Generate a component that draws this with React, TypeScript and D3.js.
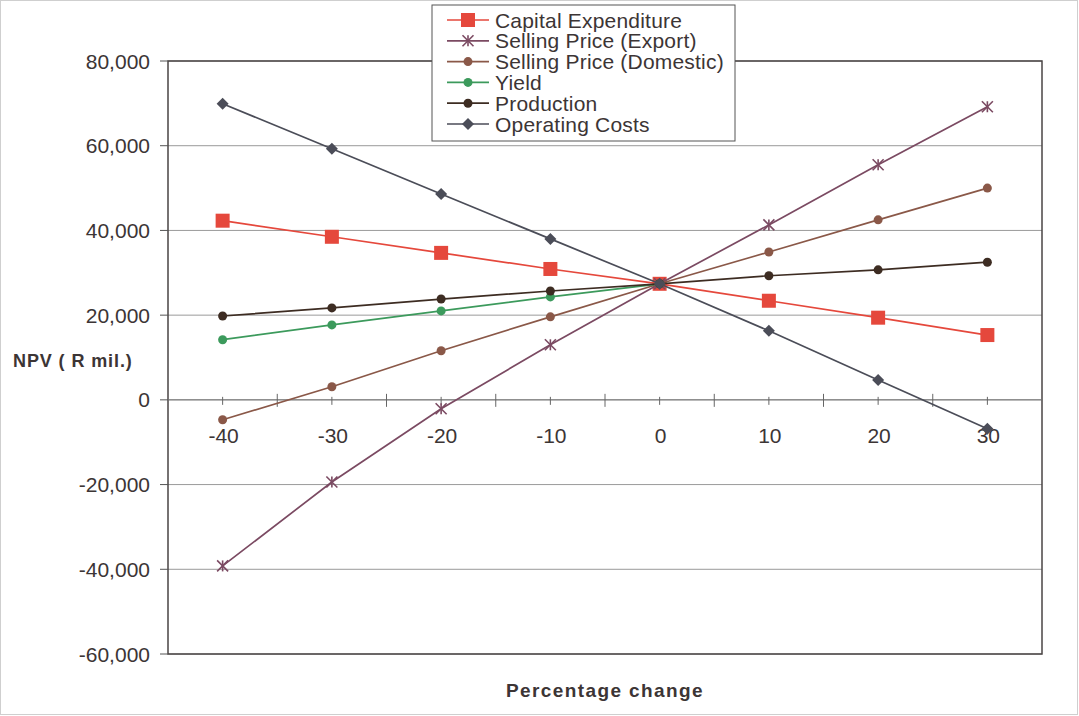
import React from "react";
import * as d3 from "d3";

// Percentage change applied to each input variable
const categories = [-40, -30, -20, -10, 0, 10, 20, 30];

// NPV (R mil.) for each sensitivity series
const capitalExpenditure = [42300, 38500, 34700, 30900, 27400, 23400, 19400, 15300];
const sellingPriceExport = [-39200, -19400, -2100, 13000, 27400, 41300, 55500, 69200];
const sellingPriceDomestic = [-4700, 3100, 11600, 19600, 27400, 34900, 42500, 50000];
const yieldValues = [14200, 17700, 21000, 24300, 27400, null, null, null];
const production = [19800, 21700, 23800, 25700, 27400, 29300, 30700, 32500];
const operatingCosts = [69900, 59300, 48600, 38000, 27400, 16300, 4700, -6800];

const yTicks = [80000, 60000, 40000, 20000, 0, -20000, -40000, -60000];

type Marker = "square" | "star" | "circle" | "diamond";
interface Series {
  name: string;
  values: (number | null)[];
  color: string;
  marker: Marker;
}

const series: Series[] = [
  { name: "Capital Expenditure", values: capitalExpenditure, color: "#e5483c", marker: "square" },
  { name: "Selling Price (Export)", values: sellingPriceExport, color: "#7b4a62", marker: "star" },
  { name: "Selling Price (Domestic)", values: sellingPriceDomestic, color: "#8a5848", marker: "circle" },
  { name: "Yield", values: yieldValues, color: "#3c9a5c", marker: "circle" },
  { name: "Production", values: production, color: "#3d2c22", marker: "circle" },
  { name: "Operating Costs", values: operatingCosts, color: "#4b4d58", marker: "diamond" },
];

const W = 1079;
const H = 716;
const plot = { left: 168, right: 1042, top: 61, bottom: 654 };
const FONT = "Arial, 'Liberation Sans', sans-serif";
const TEXT = "#3c3535";

// thousands separator with a plain hyphen for negatives
const fmt = (v: number) => d3.format(",")(v).replace("\u2212", "-");

function MarkerShape({ type, x, y, color }: { type: Marker; x: number; y: number; color: string }) {
  if (type === "square") return <rect x={x - 7} y={y - 7} width={14} height={14} fill={color} />;
  if (type === "circle") return <circle cx={x} cy={y} r={4.5} fill={color} />;
  if (type === "diamond")
    return <path d={`M${x},${y - 6}L${x + 6},${y}L${x},${y + 6}L${x - 6},${y}Z`} fill={color} />;
  // asterisk
  const s = 5.5;
  return (
    <g stroke={color} strokeWidth={1.6}>
      <line x1={x - s} y1={y - s} x2={x + s} y2={y + s} />
      <line x1={x - s} y1={y + s} x2={x + s} y2={y - s} />
      <line x1={x} y1={y - s} x2={x} y2={y + s} />
    </g>
  );
}

export default function App() {
  const x = d3
    .scaleBand<number>()
    .domain(categories)
    .range([plot.left, plot.right])
    .paddingInner(0)
    .paddingOuter(0);
  const cx = (c: number) => (x(c) as number) + x.bandwidth() / 2;
  const y = d3.scaleLinear().domain([-60000, 80000]).range([plot.bottom, plot.top]);

  const line = d3
    .line<{ c: number; v: number | null }>()
    .defined((d) => d.v !== null)
    .x((d) => cx(d.c))
    .y((d) => y(d.v as number));

  const zeroY = y(0);
  const halfTicks: { pos: number; major: boolean }[] = [];
  categories.forEach((c, i) => {
    if (i > 0) halfTicks.push({ pos: x(c) as number, major: true });
    halfTicks.push({ pos: cx(c), major: false });
  });

  const legend = { x: 432, y: 5, w: 303, h: 136, rowH: 20.8 };

  return (
    <svg
      width={W}
      height={H}
      style={{ position: "absolute", left: 0, top: 0, background: "#fff" }}
      fontFamily={FONT}
    >
      <rect x={0.5} y={0.5} width={W - 2} height={H - 2} fill="#fff" stroke="#cfcfcf" />

      {/* horizontal gridlines */}
      {yTicks.map((t) => (
        <line key={t} x1={plot.left} x2={plot.right} y1={y(t)} y2={y(t)} stroke="#9a9a9a" strokeWidth={1} />
      ))}

      {/* plot frame */}
      <rect
        x={plot.left}
        y={plot.top}
        width={plot.right - plot.left}
        height={plot.bottom - plot.top}
        fill="none"
        stroke="#4a4444"
        strokeWidth={1.5}
      />

      {/* y-axis ticks and labels */}
      {yTicks.map((t) => (
        <g key={`yt${t}`}>
          <line x1={plot.left - 8} x2={plot.left} y1={y(t)} y2={y(t)} stroke="#555" />
          <text
            x={150}
            y={y(t)}
            dy="0.36em"
            textAnchor="end"
            fontSize={21}
            fill={TEXT}
          >
            {fmt(t)}
          </text>
        </g>
      ))}

      {/* category axis along zero */}
      <line x1={plot.left} x2={plot.right} y1={zeroY} y2={zeroY} stroke="#777" />
      {halfTicks.map((t, i) => (
        <line
          key={`xt${i}`}
          x1={t.pos}
          x2={t.pos}
          y1={zeroY - (t.major ? 6 : 3)}
          y2={zeroY + (t.major ? 7 : 5)}
          stroke="#666"
        />
      ))}
      {categories.map((c) => (
        <text key={`xl${c}`} x={cx(c) + 1} y={443} textAnchor="middle" fontSize={21} fill={TEXT}>
          {c}
        </text>
      ))}

      {/* series */}
      {series.map((s) => {
        const pts = categories.map((c, i) => ({ c, v: s.values[i] }));
        return (
          <g key={s.name}>
            <path d={line(pts) || ""} fill="none" stroke={s.color} strokeWidth={1.7} />
            {pts
              .filter((p) => p.v !== null)
              .map((p) => (
                <MarkerShape key={p.c} type={s.marker} x={cx(p.c)} y={y(p.v as number)} color={s.color} />
              ))}
          </g>
        );
      })}

      {/* axis titles */}
      <text x={13} y={367} fontSize={18} fontWeight="bold" fill={TEXT} letterSpacing={0.9}>
        NPV ( R mil.)
      </text>
      <text x={605} y={697} textAnchor="middle" fontSize={19} fontWeight="bold" fill={TEXT} letterSpacing={1.4}>
        Percentage change
      </text>

      {/* legend */}
      <g>
        <rect x={legend.x} y={legend.y} width={legend.w} height={legend.h} fill="#fff" stroke="#555" />
        {series.map((s, i) => {
          const ly = legend.y + 15 + i * legend.rowH;
          return (
            <g key={`lg${s.name}`}>
              <line x1={447} x2={489} y1={ly} y2={ly} stroke={s.color} strokeWidth={1.7} />
              <MarkerShape type={s.marker} x={468} y={ly} color={s.color} />
              <text x={495} y={ly} dy="0.36em" fontSize={21} fill={TEXT} letterSpacing={0.2}>
                {s.name}
              </text>
            </g>
          );
        })}
      </g>
    </svg>
  );
}
